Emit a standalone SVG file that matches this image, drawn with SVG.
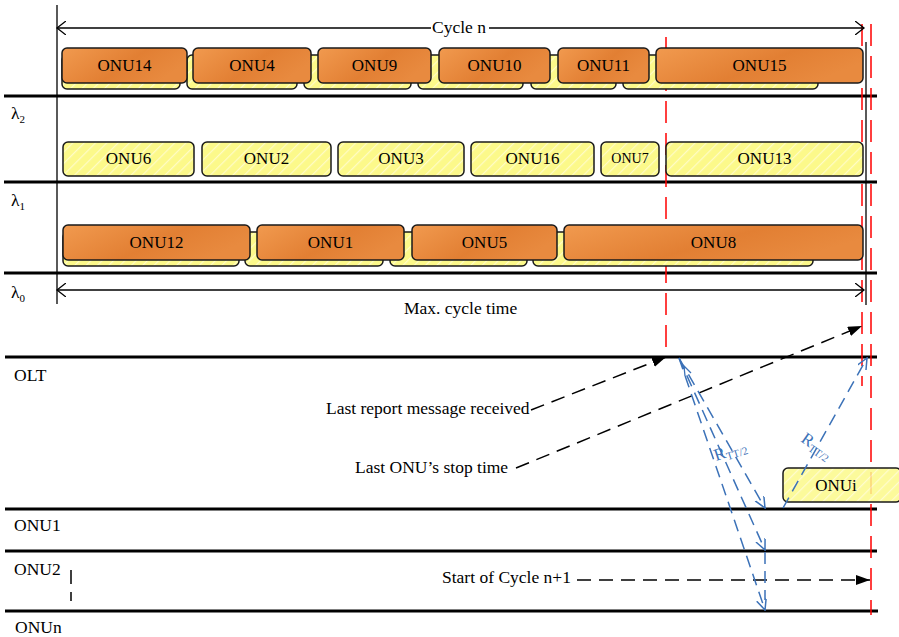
<svg xmlns="http://www.w3.org/2000/svg" width="899" height="637" viewBox="0 0 899 637">
<defs>
<linearGradient id="og" x1="0" y1="0" x2="1" y2="0.4">
<stop offset="0" stop-color="#f19a4f"/>
<stop offset="0.6" stop-color="#e27f33"/>
<stop offset="1" stop-color="#e88a3f"/>
</linearGradient>
<pattern id="yp" patternUnits="userSpaceOnUse" width="8" height="8" patternTransform="rotate(45)">
<rect width="8" height="8" fill="#fcf98a"/>
<line x1="0" y1="0" x2="0" y2="8" stroke="#fffcc6" stroke-width="2.5"/>
</pattern>
<marker id="chev" markerUnits="userSpaceOnUse" markerWidth="12" markerHeight="14" refX="9" refY="7" orient="auto-start-reverse">
<path d="M0,0 L9,7 L0,14" fill="none" stroke="#000" stroke-width="1.3"/>
</marker>
<marker id="fa" markerUnits="userSpaceOnUse" markerWidth="16" markerHeight="12" refX="14" refY="5" orient="auto">
<path d="M0,0 L14,5 L0,10 z" fill="#000"/>
</marker>
<marker id="ba" markerUnits="userSpaceOnUse" markerWidth="12" markerHeight="12" refX="11" refY="5" orient="auto">
<path d="M0,0 L11,5 L0,10" fill="none" stroke="#3c72b8" stroke-width="1.5"/>
</marker>
</defs>
<style>
.thick{stroke:#000;stroke-width:3}
.thin{stroke:#000;stroke-width:1.3;fill:none}
.red{stroke:#f00;stroke-width:1.5;stroke-dasharray:22 10;fill:none}
.bd{stroke:#000;stroke-width:1.5;stroke-dasharray:14 8;fill:none}
.blue{stroke:#3c72b8;stroke-width:1.5;stroke-dasharray:12 7;fill:none}
.or{fill:url(#og);stroke:#1a1a1a;stroke-width:1.5}
.ye{fill:url(#yp);stroke:#1a1a1a;stroke-width:1.5}
.t{font-family:"Liberation Serif","Times New Roman",serif;font-size:17px;text-anchor:middle;fill:#000}
.l{font-family:"Liberation Serif","Times New Roman",serif;font-size:17.5px;fill:#000}
.bt{font-family:"Liberation Serif","Times New Roman",serif;font-size:17px;fill:#3c72b8}
</style>

<g id="axes">
<line class="thin" x1="57" y1="5" x2="57" y2="304"/>
<line class="thin" x1="866" y1="42" x2="866" y2="305"/>
<line class="thick" x1="4" y1="96" x2="877" y2="96"/>
<line class="thick" x1="4" y1="182" x2="877" y2="182"/>
<line class="thick" x1="4" y1="273" x2="877" y2="273"/>
<line class="thick" x1="5" y1="357" x2="877" y2="357"/>
<line class="thick" x1="5" y1="509" x2="877" y2="509"/>
<line class="thick" x1="5" y1="551" x2="877" y2="551"/>
<line class="thick" x1="5" y1="611" x2="878" y2="611"/>
</g>

<g id="red-markers">
<line class="red" x1="666" y1="37" x2="666" y2="357"/>
<line class="red" x1="862" y1="24" x2="862" y2="386"/>
<line class="red" x1="871" y1="24" x2="871" y2="615"/>
</g>

<g id="row1-back">
<rect class="ye" x="62" y="55" width="118" height="34" rx="5"/>
<rect class="ye" x="187" y="55" width="110" height="34" rx="5"/>
<rect class="ye" x="304" y="55" width="107" height="34" rx="5"/>
<rect class="ye" x="418" y="55" width="105" height="34" rx="5"/>
<rect class="ye" x="531" y="55" width="85" height="34" rx="5"/>
<rect class="ye" x="623" y="55" width="195" height="34" rx="5"/>
</g>
<g id="onu14"><rect class="or" x="62" y="48" width="125" height="35" rx="5"/><text class="t" x="124.5" y="71">ONU14</text></g>
<g id="onu4"><rect class="or" x="193" y="48" width="118" height="35" rx="5"/><text class="t" x="252" y="71">ONU4</text></g>
<g id="onu9"><rect class="or" x="318" y="48" width="113" height="35" rx="5"/><text class="t" x="374.5" y="71">ONU9</text></g>
<g id="onu10"><rect class="or" x="439" y="48" width="111" height="35" rx="5"/><text class="t" x="494.5" y="71">ONU10</text></g>
<g id="onu11"><rect class="or" x="558" y="48" width="91" height="35" rx="5"/><text class="t" x="603.5" y="71">ONU11</text></g>
<g id="onu15"><rect class="or" x="656" y="48" width="207" height="35" rx="5"/><text class="t" x="759.5" y="71">ONU15</text></g>

<g id="onu6"><rect class="ye" x="63" y="142" width="131" height="34" rx="5"/><text class="t" x="128.5" y="164">ONU6</text></g>
<g id="onu2"><rect class="ye" x="202" y="142" width="129" height="34" rx="5"/><text class="t" x="266.5" y="164">ONU2</text></g>
<g id="onu3"><rect class="ye" x="338" y="142" width="126" height="34" rx="5"/><text class="t" x="401" y="164">ONU3</text></g>
<g id="onu16"><rect class="ye" x="471" y="142" width="123" height="34" rx="5"/><text class="t" x="532.5" y="164">ONU16</text></g>
<g id="onu7"><rect class="ye" x="601" y="142" width="58" height="34" rx="5"/><text class="t" x="630" y="163" style="font-size:14px">ONU7</text></g>
<g id="onu13"><rect class="ye" x="666" y="142" width="197" height="34" rx="5"/><text class="t" x="764.5" y="164">ONU13</text></g>

<g id="row3-back">
<rect class="ye" x="63" y="232" width="176" height="34" rx="5"/>
<rect class="ye" x="245" y="232" width="138" height="34" rx="5"/>
<rect class="ye" x="390" y="232" width="137" height="34" rx="5"/>
<rect class="ye" x="533" y="232" width="280" height="34" rx="5"/>
</g>
<g id="onu12"><rect class="or" x="63" y="225" width="187" height="35" rx="5"/><text class="t" x="156.5" y="248">ONU12</text></g>
<g id="onu1"><rect class="or" x="257" y="225" width="147" height="35" rx="5"/><text class="t" x="330.5" y="248">ONU1</text></g>
<g id="onu5"><rect class="or" x="412" y="225" width="145" height="35" rx="5"/><text class="t" x="484.5" y="248">ONU5</text></g>
<g id="onu8"><rect class="or" x="564" y="225" width="299" height="35" rx="5"/><text class="t" x="713.5" y="248">ONU8</text></g>

<g id="labels">
<text class="l" x="11" y="119">λ<tspan font-size="11" dy="4">2</tspan></text>
<text class="l" x="11" y="206">λ<tspan font-size="11" dy="4">1</tspan></text>
<text class="l" x="11" y="298">λ<tspan font-size="11" dy="4">0</tspan></text>
<text class="l" x="432" y="33">Cycle n</text>
<text class="l" x="404" y="314">Max. cycle time</text>
<text class="l" x="14" y="381">OLT</text>
<text class="l" x="14" y="531">ONU1</text>
<text class="l" x="14" y="575">ONU2</text>
<text class="l" x="15" y="633">ONUn</text>
<text class="l" x="326" y="414">Last report message received</text>
<text class="l" x="355" y="473">Last ONU’s stop time</text>
<text class="l" x="442" y="583">Start of Cycle n+1</text>
</g>

<g id="onui"><rect class="ye" x="783" y="468" width="118" height="34" rx="5" fill-opacity="0.85"/><text class="t" x="836" y="491">ONUi</text></g>

<g id="connectors">
<line class="thin" x1="57" y1="28" x2="431" y2="28" marker-start="url(#chev)"/>
<line class="thin" x1="489" y1="28" x2="864" y2="28" marker-end="url(#chev)"/>
<line class="thin" x1="57" y1="290" x2="864" y2="290" marker-start="url(#chev)" marker-end="url(#chev)"/>
<line class="bd" x1="531" y1="410" x2="666" y2="357" marker-end="url(#fa)"/>
<line class="bd" x1="516" y1="468" x2="862" y2="326" marker-end="url(#fa)"/>
<line class="bd" x1="577" y1="580" x2="870" y2="580" marker-end="url(#fa)"/>
<line class="bd" x1="71" y1="570" x2="71" y2="601"/>
<line class="blue" x1="679" y1="358" x2="765" y2="508" marker-end="url(#ba)"/>
<line class="blue" x1="679" y1="358" x2="765" y2="550" marker-end="url(#ba)"/>
<line class="blue" x1="679" y1="358" x2="765" y2="610" marker-end="url(#ba)"/>
<line class="blue" x1="765" y1="552" x2="765" y2="600"/>
<line class="blue" x1="783" y1="508" x2="867" y2="358" marker-end="url(#ba)"/>
<path d="M691,373 L684,366 L685,376" fill="none" stroke="#3c72b8" stroke-width="1.3"/>
<text class="bt" transform="translate(716,461) rotate(-18)">R<tspan font-size="11" dy="3">TT/2</tspan></text>
<text class="bt" transform="translate(800,441) rotate(35)">R<tspan font-size="11" dy="3">TT/2</tspan></text>
</g>
</svg>
